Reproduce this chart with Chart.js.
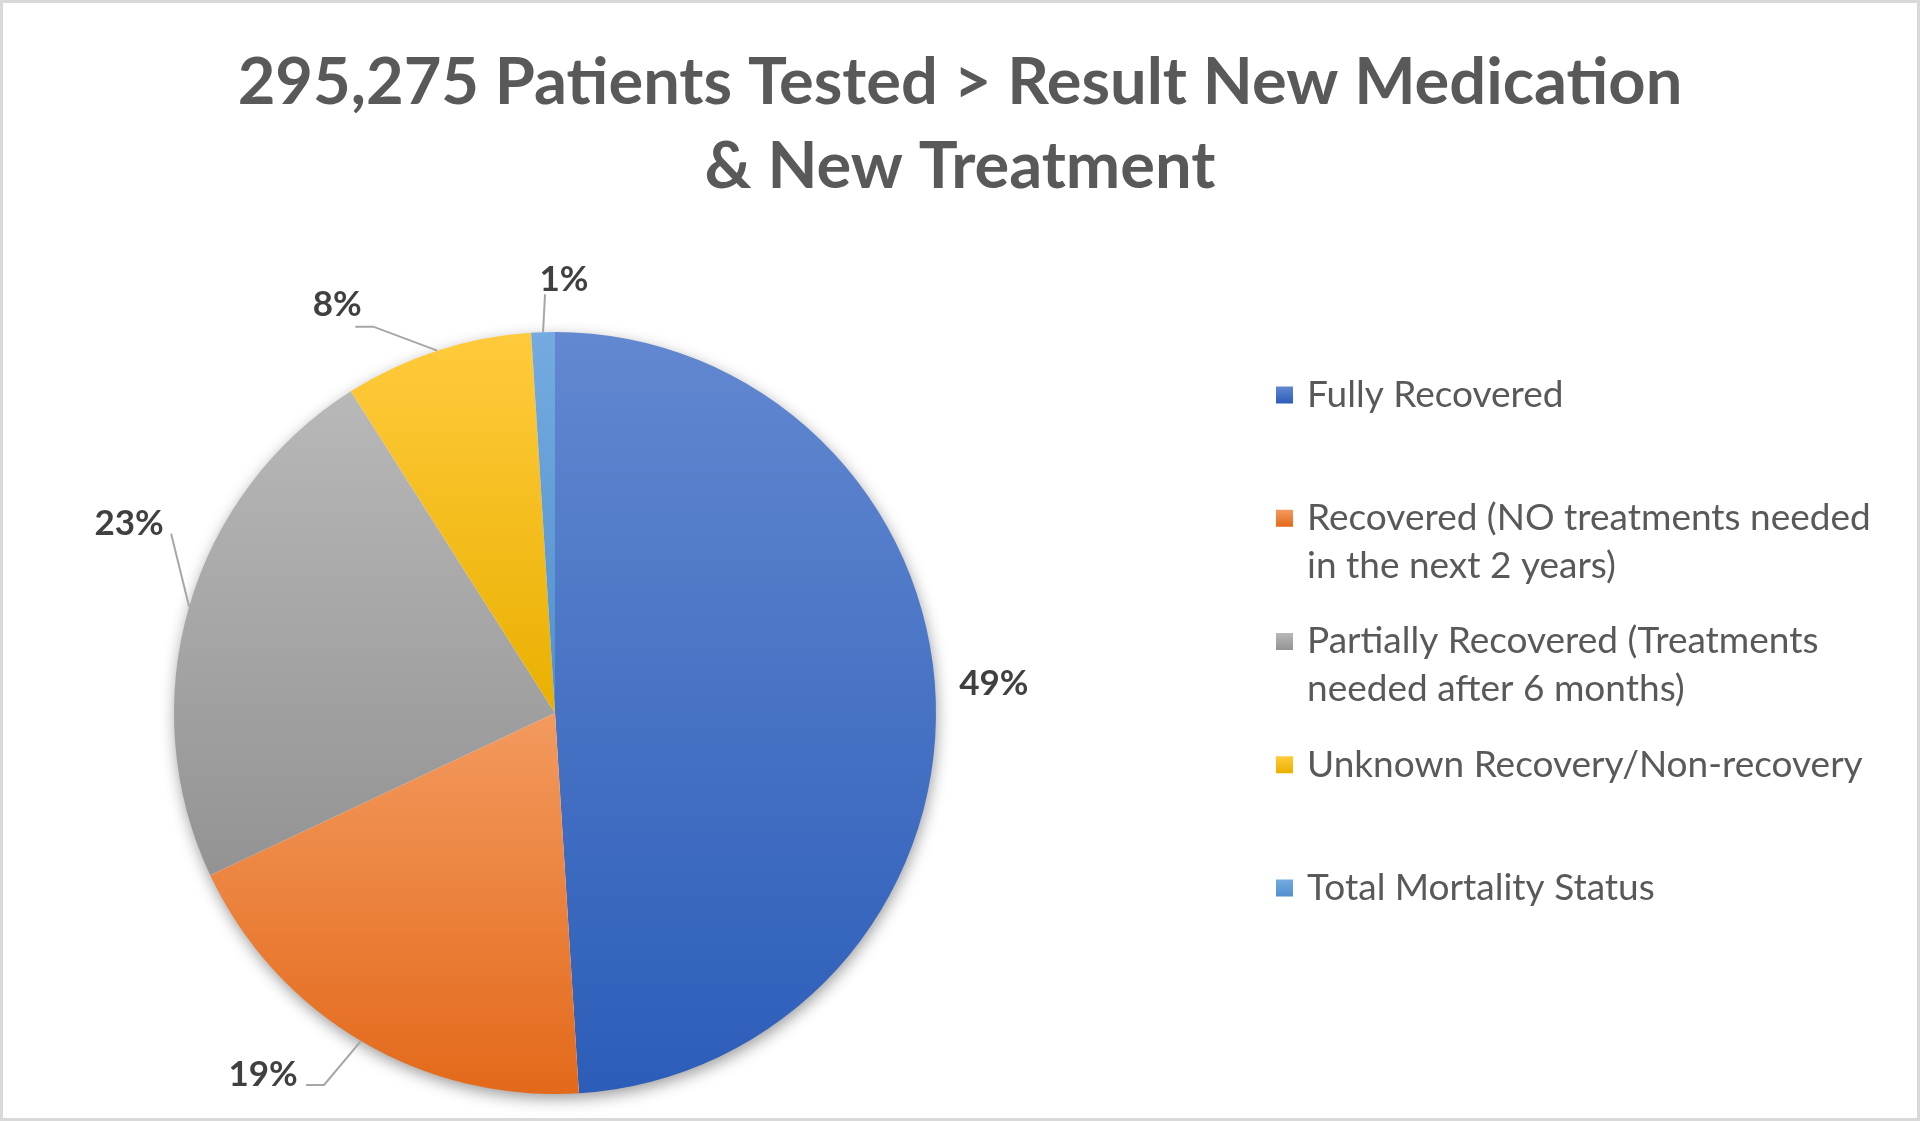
<!DOCTYPE html>
<html>
<head>
<meta charset="utf-8">
<title>295,275 Patients Tested</title>
<script src="https://cdn.jsdelivr.net/npm/chart.js@4.4.0/dist/chart.umd.min.js"></script>
<style>
  html, body { margin: 0; padding: 0; background: #fff; }
  #wrap { width: 1920px; height: 1121px; position: relative; }
</style>
</head>
<body>
<div id="wrap"><canvas id="myChart"></canvas></div>
<script>
const titleLines = ["295,275 Patients Tested > Result New Medication", "& New Treatment"];
const categories = [
  "Fully Recovered",
  "Recovered (NO treatments needed in the next 2 years)",
  "Partially Recovered (Treatments needed after 6 months)",
  "Unknown Recovery/Non-recovery",
  "Total Mortality Status"
];
const percentValues = [49, 19, 23, 8, 1];

// slice gradients, light at the top of each slice, darker at its bottom
const colorsTop = ["#6288D0", "#F39A5E", "#B8B8B8", "#FFCB3C", "#74AAE0"];
const colorsBottom = ["#2C5DB9", "#E3691A", "#939393", "#E9B000", "#5190CE"];

const FONT = "Lato, 'Open Sans', sans-serif";

// label offsets from the point where the slice's middle meets the rim
const labelPlace = [
  { text: [58, -17], line: [] },
  { text: [-98, 34], line: [[-37, 44], [-55, 44]] },
  { text: [-60, -83], line: [[-18, -73]] },
  { text: [-100, -46], line: [[-64, -24], [-82, -24]] },
  { text: [21, -52], line: [[2, -38]] }
];

function wrapText(ctx, text, maxWidth) {
  const words = text.split(" ");
  const lines = [];
  let line = "";
  words.forEach((w) => {
    const test = line ? line + " " + w : w;
    if (line && ctx.measureText(test).width > maxWidth) {
      lines.push(line);
      line = w;
    } else {
      line = test;
    }
  });
  lines.push(line);
  return lines;
}

const frameAndTitle = {
  id: "frameAndTitle",
  beforeDraw(chart) {
    const ctx = chart.ctx;
    ctx.save();
    ctx.fillStyle = "#fff";
    ctx.fillRect(0, 0, chart.width, chart.height);
    ctx.strokeStyle = "#D9D9D9";
    ctx.lineWidth = 3;
    ctx.strokeRect(1.5, 1.5, chart.width - 3, chart.height - 3);
    ctx.fillStyle = "#595959";
    ctx.font = "bold 65px " + FONT;
    ctx.textAlign = "center";
    ctx.textBaseline = "alphabetic";
    titleLines.forEach((t, i) => ctx.fillText(t, chart.width / 2, 104 + i * 84));
    ctx.restore();
  }
};

const shadowAndFill = {
  id: "shadowAndFill",
  beforeDatasetsDraw(chart) {
    const ctx = chart.ctx;
    const arcs = chart.getDatasetMeta(0).data;
    const cx = arcs[0].x, cy = arcs[0].y, r = arcs[0].outerRadius;
    ctx.save();
    ctx.shadowColor = "rgba(0,0,0,0.42)";
    ctx.shadowBlur = 16;
    ctx.shadowOffsetX = 1;
    ctx.shadowOffsetY = 5;
    ctx.beginPath();
    ctx.arc(cx, cy, r - 1, 0, Math.PI * 2);
    ctx.fillStyle = "#fff";
    ctx.fill();
    ctx.restore();
    arcs.forEach((arc, i) => {
      let top = cy, bottom = cy;
      for (let k = 0; k <= 60; k++) {
        const a = arc.startAngle + (arc.endAngle - arc.startAngle) * k / 60;
        const y = cy + r * Math.sin(a);
        top = Math.min(top, y);
        bottom = Math.max(bottom, y);
      }
      const g = ctx.createLinearGradient(0, top, 0, bottom);
      g.addColorStop(0, colorsTop[i]);
      g.addColorStop(1, colorsBottom[i]);
      arc.options.backgroundColor = g;
    });
  }
};

const outsideLabels = {
  id: "outsideLabels",
  afterDatasetsDraw(chart) {
    const ctx = chart.ctx;
    const arcs = chart.getDatasetMeta(0).data;
    const total = percentValues.reduce((a, b) => a + b, 0);
    ctx.save();
    arcs.forEach((arc, i) => {
      const mid = (arc.startAngle + arc.endAngle) / 2;
      const ax = arc.x + arc.outerRadius * Math.cos(mid);
      const ay = arc.y + arc.outerRadius * Math.sin(mid);
      const p = labelPlace[i];
      if (p.line.length) {
        ctx.beginPath();
        ctx.moveTo(ax, ay);
        p.line.forEach(([dx, dy]) => ctx.lineTo(ax + dx, ay + dy));
        ctx.strokeStyle = "#A6A6A6";
        ctx.lineWidth = 2;
        ctx.stroke();
      }
      ctx.fillStyle = "#404040";
      ctx.font = "bold 35px " + FONT;
      ctx.textAlign = "center";
      ctx.textBaseline = "middle";
      ctx.fillText(Math.round(percentValues[i] / total * 100) + "%", ax + p.text[0], ay + p.text[1]);
    });
    ctx.restore();
  }
};

const sideLegend = {
  id: "sideLegend",
  afterDraw(chart) {
    const ctx = chart.ctx;
    ctx.save();
    ctx.font = "37px " + FONT;
    ctx.textBaseline = "middle";
    ctx.textAlign = "left";
    categories.forEach((name, i) => {
      const y = 395 + i * 123.25;
      const box = 17;
      const g = ctx.createLinearGradient(0, y - box / 2, 0, y + box / 2);
      g.addColorStop(0, colorsTop[i]);
      g.addColorStop(1, colorsBottom[i]);
      ctx.fillStyle = g;
      ctx.fillRect(1276, y - box / 2, box, box);
      ctx.fillStyle = "#595959";
      wrapText(ctx, name, 580).forEach((line, k) => ctx.fillText(line, 1307, y + k * 48));
    });
    ctx.restore();
  }
};

new Chart(document.getElementById("myChart"), {
  type: "pie",
  data: {
    labels: categories,
    datasets: [
      {
        data: percentValues,
        backgroundColor: colorsTop,
        borderWidth: 0
      }
    ]
  },
  options: {
    responsive: true,
    maintainAspectRatio: false,
    animation: false,
    layout: { padding: { left: 174, right: 984, top: 332, bottom: 27 } },
    plugins: {
      legend: { display: false },
      title: { display: false },
      tooltip: { enabled: false }
    }
  },
  plugins: [frameAndTitle, shadowAndFill, outsideLabels, sideLegend]
});
</script>
</body>
</html>
